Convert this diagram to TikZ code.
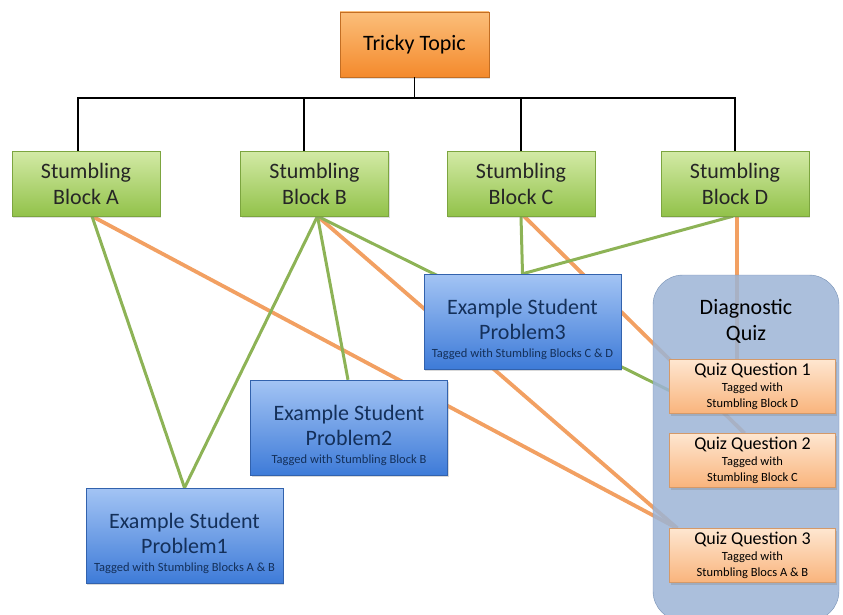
\documentclass[tikz,border=0pt]{standalone}
\usepackage{fontspec}
\setmainfont{Carlito}
\usepackage{tikz}
\usetikzlibrary{positioning, calc, shadows, backgrounds}

\definecolor{topicTop}{HTML}{FBBE7A}
\definecolor{topicBot}{HTML}{F48A2C}
\definecolor{blockTop}{HTML}{D3EAA6}
\definecolor{blockBot}{HTML}{92C24A}
\definecolor{probTop}{HTML}{A3C4F4}
\definecolor{probBot}{HTML}{3E7BD8}
\definecolor{quizTop}{HTML}{FEE6D0}
\definecolor{quizBot}{HTML}{F9B47C}
\definecolor{panelFill}{HTML}{9CB4D6}
\definecolor{panelLine}{HTML}{7690B4}
\definecolor{linkGreen}{HTML}{8DB356}
\definecolor{linkOrange}{HTML}{F2A062}
\definecolor{navyText}{HTML}{14305A}

\newcommand{\tagfont}{\fontsize{12.5}{14}\selectfont}
\newcommand{\probtext}[2]{\rule{0pt}{31pt}Example Student\\#1\\[-7pt]{\tagfont #2}}
\newcommand{\quiztext}[2]{Quiz Question #1\\[-4pt]{\tagfont Tagged with}\\[-4pt]{\tagfont #2}}

\begin{document}
\begin{tikzpicture}[x=1pt, y=-1pt,
    topicbox/.style={draw=topicBot!80!black, top color=topicTop, bottom color=topicBot, minimum width=149pt, minimum height=65pt, inner sep=0pt, align=center, font=\fontsize{22}{25}\selectfont, drop shadow={shadow xshift=1pt, shadow yshift=-2pt, opacity=0.25}},
    blockbox/.style={draw=blockBot!85!black, top color=blockTop, bottom color=blockBot, minimum width=148pt, minimum height=65pt, inner sep=0pt, align=center, text=black!85, font=\fontsize{22}{26}\selectfont, drop shadow={shadow xshift=1pt, shadow yshift=-2pt, opacity=0.25}},
    probbox/.style={draw=probBot!80!black, top color=probTop, bottom color=probBot, minimum width=197pt, minimum height=95pt, inner sep=0pt, align=center, text=navyText, font=\fontsize{22}{25}\selectfont, drop shadow={shadow xshift=1pt, shadow yshift=-2pt, opacity=0.3}},
    quizbox/.style={draw=quizBot!85!black, top color=quizTop, bottom color=quizBot, minimum width=166pt, minimum height=54pt, inner sep=0pt, align=center, font=\fontsize{18}{20}\selectfont, drop shadow={shadow xshift=1pt, shadow yshift=-2pt, opacity=0.3}},
    quizpanel/.style={draw=panelLine, fill=panelFill, fill opacity=0.85, rounded corners=30pt, minimum width=186pt, minimum height=346pt, inner sep=0pt},
    treeline/.style={draw=black, line width=1.8pt},
    greenlink/.style={draw=linkGreen, line width=3pt},
    orangelink/.style={draw=linkOrange, line width=3.8pt},
    ]
    \useasboundingbox (0,0) rectangle (843,615);

    % topic and stumbling blocks
    \node[topicbox] (topic) at (414.5,44.5) {Tricky Topic};
    \node[blockbox] (blkA) at (86,183.5) {Stumbling\\Block A};
    \node[blockbox] (blkB) at (314.5,183.5) {Stumbling\\Block B};
    \node[blockbox] (blkC) at (521,183.5) {Stumbling\\Block C};
    \node[blockbox] (blkD) at (735,183.5) {Stumbling\\Block D};

    % example problems
    \node[probbox] (prob3) at (522.5,321.5) {\probtext{Problem3}{Tagged with Stumbling Blocks C \& D}};
    \node[probbox] (prob2) at (349,427.5) {\probtext{Problem2}{Tagged with Stumbling Block B}};
    \node[probbox] (prob1) at (184.5,535.5) {\probtext{Problem1}{Tagged with Stumbling Blocks A \& B}};

    % quiz questions
    \node[quizbox] (qq1) at (752.5,386.5) {\quiztext{1}{Stumbling Block D}};
    \node[quizbox] (qq2) at (752.5,460.5) {\quiztext{2}{Stumbling Block C}};
    \node[quizbox] (qq3) at (752.5,555.5) {\quiztext{3}{Stumbling Blocs A \& B}};

    % tree bar
    \coordinate (bar) at (0,98);
    \draw[treeline] (topic.south) -- (topic.south |- bar);
    \draw[treeline] ([xshift=-8pt]blkA.north) -- ([xshift=-8pt]blkA.north |- bar) -- (blkD.north |- bar) -- (blkD.north);
    \draw[treeline] ([xshift=-10.5pt]blkB.north) -- ([xshift=-10.5pt]blkB.north |- bar);
    \draw[treeline] (blkC.north) -- (blkC.north |- bar);

    \begin{scope}[on background layer]
        % orange links (questions)
        \draw[orangelink] ([xshift=6pt]blkA.south) -- ([xshift=8pt]qq3.north west);
        \draw[orangelink] ([xshift=3pt]blkB.south) -- ([xshift=8pt]qq3.north west);
        \draw[orangelink] ([xshift=3pt]blkC.south) -- ([xshift=-8pt]qq2.north);
        \draw[orangelink] ([xshift=2pt]blkD.south) -- ([xshift=2pt]blkD.south |- qq1.north);

        % green links (problems)
        \draw[greenlink] ([xshift=6pt]blkA.south) -- (prob1.north);
        \draw[greenlink] ([xshift=3pt]blkB.south) -- (prob1.north);
        \draw[greenlink] ([xshift=3pt]blkB.south) -- ([xshift=-1pt]prob2.north);
        \draw[greenlink] ([xshift=3pt]blkB.south) -- ([yshift=-4pt]qq1.west);
        \draw[greenlink] (blkC.south) -- (prob3.north);
        \draw[greenlink] ([xshift=-2pt]blkD.south) -- (prob3.north);

        % diagnostic quiz panel
        \node[quizpanel] (quiz) at (746,448) {};
    \end{scope}
    \node[below=21pt of quiz.north, align=center, font=\fontsize{22}{26}\selectfont] (quiztitle) {Diagnostic\\Quiz};
\end{tikzpicture}
\end{document}
